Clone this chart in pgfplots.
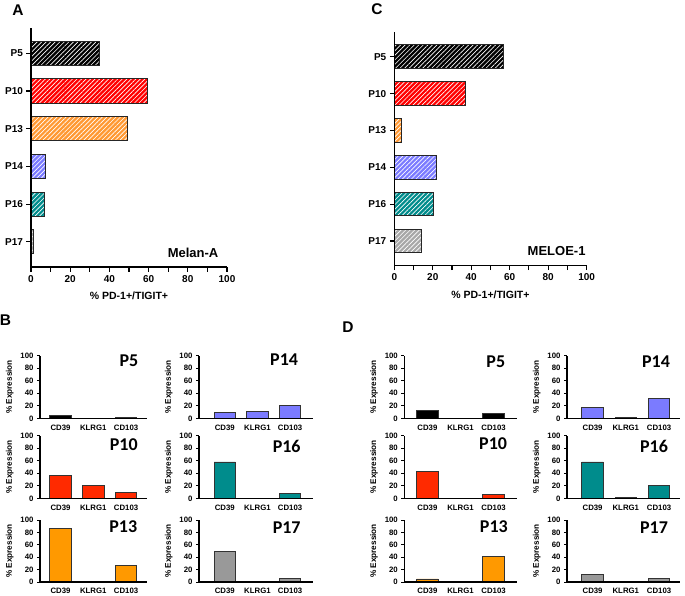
\documentclass[border=0pt]{standalone}
\usepackage{fontspec}
\setmainfont{Liberation Sans}
\newfontfamily\calib{Carlito}
\usepackage{pgfplots}
\pgfplotsset{compat=1.18}
\usetikzlibrary{patterns.meta}

\definecolor{cred}{HTML}{FF0000}
\definecolor{cred2}{HTML}{FF2A00}
\definecolor{corange}{HTML}{FF9900}
\definecolor{corangeh}{HTML}{FF9933}
\definecolor{cblue}{HTML}{7B7BFF}
\definecolor{cteal}{HTML}{008C8C}
\definecolor{cgray}{HTML}{999999}
\definecolor{cgrayl}{HTML}{A8A8A8}

\tikzset{
  ttl/.style={font=\calib\bfseries\fontsize{18}{20}\selectfont},
  hatch/.style={fill=#1, postaction={pattern color=white, pattern={Lines[angle=45,distance=3.2pt,line width=0.65pt]}}},
}

\pgfplotsset{
  hpanel/.style={
    scale only axis, anchor=south west, axis on top,
    xbar, bar width=0.64,
    xmin=0, xmax=100, ymin=-0.67, ymax=5.67,
    xtick={0,10,...,100}, xticklabels={0,,20,,40,,60,,80,,100},
    ytick={0,...,5}, yticklabels={P17,P16,P14,P13,P10,P5},
    axis lines*=left, axis line style={line width=1.4pt,-},
    tick align=outside, major tick length=4.5pt,
    tick style={black,line width=1.1pt},
    tick label style={font=\bfseries\fontsize{10}{12}\selectfont},
    /pgf/number format/assume math mode=true,
    xlabel={\% PD-1+/TIGIT+}, xlabel style={font=\bfseries\fontsize{10.5}{12}\selectfont, yshift=-3pt},
    every axis plot/.append style={bar shift=0pt, draw=black!85, line width=0.9pt},
    clip=false,
  },
  spanel/.style={
    scale only axis, anchor=south west, axis on top,
    ybar, bar width=0.65, height=63pt,
    ymin=0, ymax=100, ytick={0,20,...,100},
    xtick={0,1,2}, xticklabels={CD39,KLRG1,CD103},
    axis lines*=left, axis line style={line width=1.1pt,-},
    tick align=outside, major tick length=3pt,
    y tick style={black,line width=0.9pt}, x tick style={draw=none},
    tick label style={font=\bfseries\fontsize{7.8}{9}\selectfont},
    /pgf/number format/assume math mode=true,
    ylabel={\% Expression}, ylabel style={font=\bfseries\fontsize{8.2}{9}\selectfont},
    every axis plot/.append style={bar shift=0pt, draw=black!80, line width=0.8pt},
    clip=false,
  },
  bl/.style={spanel, width=106.7pt, xmin=-0.625, xmax=2.63},
  br/.style={spanel, width=114.3pt, xmin=-0.79, xmax=2.71},
  dl/.style={spanel, width=112.4pt, xmin=-0.70, xmax=2.70},
  dr/.style={spanel, width=113pt, xmin=-0.77, xmax=2.63},
}

\begin{document}
\begin{tikzpicture}
\useasboundingbox (0,0) rectangle (685pt,-595pt);

% panel letters
\node[font=\bfseries\fontsize{15.5}{17}\selectfont] at (18pt,-10pt) {A};
\node[font=\bfseries\fontsize{15.5}{17}\selectfont] at (377pt,-9.5pt) {C};
\node[font=\bfseries\fontsize{15.5}{17}\selectfont] at (5.5pt,-320.5pt) {B};
\node[font=\bfseries\fontsize{15.5}{17}\selectfont] at (348pt,-327pt) {D};

% A: Melan-A
\begin{axis}[hpanel, at={(31pt,-267pt)}, width=196pt, height=239pt]
\addplot[hatch=black]    coordinates {(35,5)};
\addplot[hatch=cred]     coordinates {(59.5,4)};
\addplot[hatch=corangeh] coordinates {(49,3)};
\addplot[hatch=cblue]    coordinates {(7.6,2)};
\addplot[hatch=cteal]    coordinates {(7.1,1)};
\addplot[hatch=cgrayl]   coordinates {(1.2,0)};
\node[font=\bfseries\fontsize{13}{15}\selectfont] at (axis cs:82.7,-0.29) {Melan-A};
\end{axis}

% C: MELOE-1
\begin{axis}[hpanel, at={(394.3pt,-265.7pt)}, width=192.3pt, height=233.7pt]
\addplot[hatch=black]    coordinates {(57,5)};
\addplot[hatch=cred]     coordinates {(36.8,4)};
\addplot[hatch=corangeh] coordinates {(3.8,3)};
\addplot[hatch=cblue]    coordinates {(22,2)};
\addplot[hatch=cteal]    coordinates {(20.3,1)};
\addplot[hatch=cgrayl]   coordinates {(14,0)};
\node[font=\bfseries\fontsize{13}{15}\selectfont] at (axis cs:84.4,-0.28) {MELOE-1};
\end{axis}

% B, left column
\begin{axis}[bl, at={(40pt,-418.5pt)}]
\addplot[fill=black] coordinates {(0,4.5) (1,0) (2,1.2)};
\node[ttl] at (rel axis cs:0.834,0.91) {P5};
\end{axis}
\begin{axis}[bl, at={(40pt,-498.5pt)}]
\addplot[fill=cred2] coordinates {(0,36.5) (1,20.3) (2,10)};
\node[ttl] at (rel axis cs:0.785,0.86) {P10};
\end{axis}
\begin{axis}[bl, at={(40pt,-582pt)}, height=62pt]
\addplot[fill=corange] coordinates {(0,87) (1,1.5) (2,26.5)};
\node[ttl] at (rel axis cs:0.78,0.90) {P13};
\end{axis}

% B, right column
\begin{axis}[br, at={(199pt,-418.5pt)}]
\addplot[fill=cblue] coordinates {(0,9.5) (1,11.5) (2,21)};
\node[ttl] at (rel axis cs:0.745,0.94) {P14};
\end{axis}
\begin{axis}[br, at={(199pt,-498.5pt)}]
\addplot[fill=cteal] coordinates {(0,58) (1,0) (2,8.5)};
\node[ttl] at (rel axis cs:0.767,0.83) {P16};
\end{axis}
\begin{axis}[br, at={(199pt,-582pt)}, height=62pt]
\addplot[fill=cgray] coordinates {(0,49.5) (1,0) (2,6)};
\node[ttl] at (rel axis cs:0.767,0.88) {P17};
\end{axis}

% D, left column
\begin{axis}[dl, at={(404.3pt,-418.5pt)}]
\addplot[fill=black] coordinates {(0,12.5) (1,0) (2,8.3)};
\node[ttl] at (rel axis cs:0.814,0.90) {P5};
\end{axis}
\begin{axis}[dl, at={(404.3pt,-498.5pt)}]
\addplot[fill=cred2] coordinates {(0,43) (1,0) (2,6.5)};
\node[ttl] at (rel axis cs:0.79,0.865) {P10};
\end{axis}
\begin{axis}[dl, at={(404.3pt,-582pt)}, height=62pt]
\addplot[fill=corange] coordinates {(0,5) (1,1.5) (2,41.5)};
\node[ttl] at (rel axis cs:0.797,0.887) {P13};
\end{axis}

% D, right column
\begin{axis}[dr, at={(567pt,-418.5pt)}]
\addplot[fill=cblue] coordinates {(0,17) (1,1) (2,31.5)};
\node[ttl] at (rel axis cs:0.788,0.91) {P14};
\end{axis}
\begin{axis}[dr, at={(567pt,-498.5pt)}]
\addplot[fill=cteal] coordinates {(0,58) (1,2) (2,20.5)};
\node[ttl] at (rel axis cs:0.77,0.83) {P16};
\end{axis}
\begin{axis}[dr, at={(567pt,-582pt)}, height=62pt]
\addplot[fill=cgray] coordinates {(0,12.5) (1,0) (2,5.5)};
\node[ttl] at (rel axis cs:0.77,0.88) {P17};
\end{axis}
\end{tikzpicture}
\end{document}
